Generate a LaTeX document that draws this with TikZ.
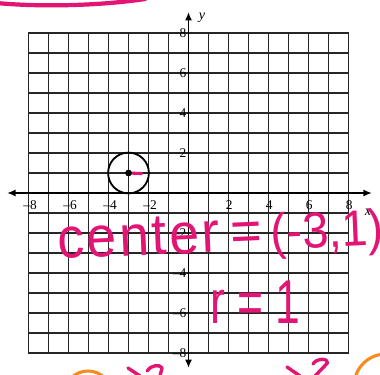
\documentclass[tikz,border=0pt]{standalone}
\usepackage{fontspec}
\setmainfont{Liberation Serif}
\newfontfamily\handfont{Liberation Sans}
\usetikzlibrary{arrows.meta}
\definecolor{handpink}{RGB}{226,20,116}
\definecolor{handorange}{RGB}{247,140,30}
\begin{document}
\begin{tikzpicture}[x=0.5cm,y=0.5cm,
  gridline/.style={draw=black!85, line width=0.85pt},
  axisline/.style={draw=black, line width=1.1pt, {Latex[length=6pt,width=5pt]}-{Latex[length=6pt,width=5pt]}},
  ticklabel/.style={font=\fontsize{9.5}{11}\selectfont, inner sep=0pt},
  axislabel/.style={font=\fontsize{10}{12}\selectfont\itshape, inner sep=0pt},
  ink/.style={draw=handpink, line width=2.4pt, line cap=round, line join=round},
  orangeink/.style={draw=handorange, line width=2.2pt, line cap=round},
  hand/.style={text=handpink, inner sep=0pt, anchor=base west}]
\useasboundingbox (-9.425,-9.05) rectangle (9.575,9.65);
\fill[white] (-9.425,-9.05) rectangle (9.575,9.65);
% grid
\draw[gridline, step=1] (-8,-8) grid (8,8);
% axes
\coordinate (xl) at (-9.07,0); \coordinate (xr) at (9.17,0);
\coordinate (yb) at (0,-8.75); \coordinate (yt) at (0,9.05);
\draw[axisline] (xl) -- (xr);
\draw[axisline] (yb) -- (yt);
% tick labels
\foreach \v in {2,4,6,8} {
  \node[ticklabel] (xp\v) at (\v+0.03,-0.6) {\v};
  \node[ticklabel] (xm\v) at (-\v+0.08,-0.6) {–\v};
  \node[ticklabel, anchor=east] (yp\v) at (-0.1,\v) {\v};
  \node[ticklabel, anchor=east] (ym\v) at (-0.1,-\v) {–\v};
}
\node[axislabel] (ylab) at (0.675,8.75) {y};
\node[axislabel] (xlab) at (8.98,-0.95) {x};
% circle
\coordinate (c) at (-3,1);
\coordinate (r) at (-2.3,0.97);
\draw[line width=1.3pt] (c) circle (1.02);
\draw[ink, line width=2.2pt, line cap=butt] (c) -- (r);
\fill (c) circle (0.17);
% handwriting
\begin{scope}[shift={(-6.525,-3.3)}, rotate=2.5]
\node[hand, xscale=0.93, transform shape, font=\handfont\fontsize{41}{41}\selectfont] (centertext) at (0,0) {{\addfontfeature{LetterSpace=5}center}\hspace{-0.08em} =\hspace{-0.1em} {\fontsize{36}{36}\selectfont(-3,1)}};
\end{scope}
\begin{scope}[shift={(1.075,-6.5)}]
\node[hand, xscale=0.72, transform shape, font=\handfont\fontsize{44}{44}\selectfont] (rtext) at (0,0) {r = 1};
\end{scope}
% partial strokes at the edges
\draw[ink, line width=3pt] (-9.6,9.5) .. controls (-7.5,9.3) and (-4.5,9.35) .. (-2.175,9.7);
\draw[ink] (-3.025,-8.75) -- (-2.425,-9.15);
\draw[ink] (-2.075,-8.9) .. controls (-1.9,-8.6) and (-1.4,-8.55) .. (-1.325,-8.75) -- (-1.425,-9.15);
\draw[ink] (4.925,-8.7) -- (5.575,-9.15);
\draw[ink] (6.225,-8.55) .. controls (6.4,-8.25) and (7.0,-8.25) .. (6.95,-8.5) -- (6.325,-9.15);
\draw[orangeink] (-5.025,-10.1) circle (1.2);
\draw[orangeink] (9.875,-9.65) circle (1.6);
\end{tikzpicture}
\end{document}
